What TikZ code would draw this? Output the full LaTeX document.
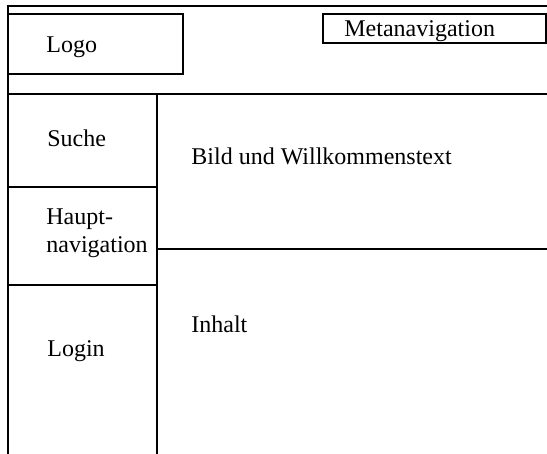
\documentclass[tikz,border=0pt]{standalone}
\usepackage{fontspec}
\setmainfont{Liberation Serif}
\usepackage{tikz}
\usetikzlibrary{positioning}

\begin{document}
\begin{tikzpicture}[
         x = 0.5pt, y = -0.5pt,
every node/.style = {font=\fontsize{12}{14}\selectfont},
      frame/.style = {draw, line width=1pt},
        lbl/.style = {inner sep=0pt, anchor=base west, align=left}
                        ]
\useasboundingbox (0,0) rectangle (547,454);
% page frame and dividers
\draw[frame] (8,454) -- (8,6) -- (547,6);
\draw[frame] (8,94) -- (547,94);
\draw[frame] (157,94) -- (157,454);
\draw[frame] (8,187) -- (157,187);
\draw[frame] (8,285) -- (157,285);
\draw[frame] (157,249) -- (547,249);
% header boxes
\draw[frame] (8,14) rectangle (183,74);
\draw[frame] (323,14) rectangle (546,43);
% labels
\node (logo)  [lbl] at (46,53)  {Logo};
\node (meta)  [lbl] at (344,37) {Metanavigation};
\node (suche) [lbl] at (47,147) {Suche};
\node (haupt) [lbl] at (46,253) {Haupt-\\navigation};
\node (login) [lbl] at (47,357) {Login};
\node (bild)  [lbl] at (191,165) {Bild und Willkommenstext};
\node (inhalt)[lbl] at (191,333) {Inhalt};
\end{tikzpicture}
\end{document}
